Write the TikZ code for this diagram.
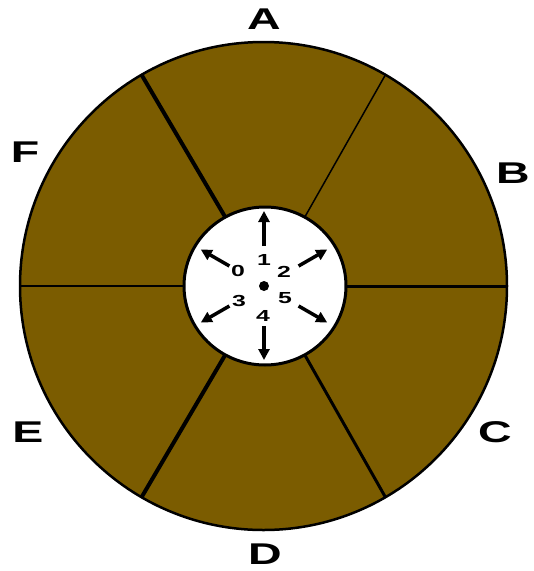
\documentclass[tikz,border=0pt]{standalone}
\usepackage{fontspec}
\setmainfont{Liberation Sans}
\usetikzlibrary{shapes.geometric,arrows.meta}
\definecolor{wheel}{RGB}{123,92,0}
\newcommand{\wide}[1]{\scalebox{1.55}[1]{#1}}
\begin{document}
\begin{tikzpicture}[x=1pt,y=-1pt,
  lab/.style={font=\fontsize{30}{30}\selectfont\bfseries, inner sep=0},
  num/.style={font=\fontsize{16}{16}\selectfont\bfseries, inner sep=0},
  arr/.style={line width=3.5pt, -{Triangle[length=11pt,width=11pt]}},
  ring/.style={ellipse, draw, inner sep=0, outer sep=0}]
\useasboundingbox (0,0) rectangle (534,571);
\node[ring, line width=2.5pt, fill=wheel, minimum width=487pt, minimum height=488pt] (outer) at (263.5,286) {};
\node[ring, line width=3pt, fill=white, minimum width=162pt, minimum height=158pt] (inner) at (265,286) {};
\draw[line width=3pt]   (inner.0)   -- (outer.0);
\draw[line width=1.5pt] (inner.60)  -- (outer.60);
\draw[line width=4pt]   (inner.120) -- (outer.120);
\draw[line width=1.2pt] (inner.180) -- (outer.180);
\draw[line width=4pt]   (inner.240) -- (outer.240);
\draw[line width=3pt]   (inner.300) -- (outer.300);
\node[circle, fill, inner sep=0, minimum size=10pt] (c) at (264,286) {};
\coordinate (s1) at (264,246);   \coordinate (e1) at (264,211);
\coordinate (s4) at (264,326);   \coordinate (e4) at (264,360);
\coordinate (s0) at (229.4,266); \coordinate (e0) at (200.8,249.5);
\coordinate (s2) at (298.6,266); \coordinate (e2) at (327.2,249.5);
\coordinate (s3) at (229.4,306); \coordinate (e3) at (200.8,322.5);
\coordinate (s5) at (298.6,306); \coordinate (e5) at (327.2,322.5);
\foreach \i in {0,...,5} { \draw[arr] (s\i) -- (e\i); }
\node[num] (n0) at (238,271) {\wide{0}};
\node[num] (n1) at (264,260) {\wide{1}};
\node[num] (n2) at (284,272) {\wide{2}};
\node[num] (n3) at (239,301) {\wide{3}};
\node[num] (n4) at (263,316) {\wide{4}};
\node[num] (n5) at (285,298) {\wide{5}};
\node[lab] (A) at (264,19) {\wide{A}};
\node[lab] (B) at (513,173) {\wide{B}};
\node[lab] (C) at (495,432) {\wide{C}};
\node[lab] (D) at (265,554) {\wide{D}};
\node[lab] (E) at (28,432) {\wide{E}};
\node[lab] (F) at (25,152) {\wide{F}};
\end{tikzpicture}
\end{document}
